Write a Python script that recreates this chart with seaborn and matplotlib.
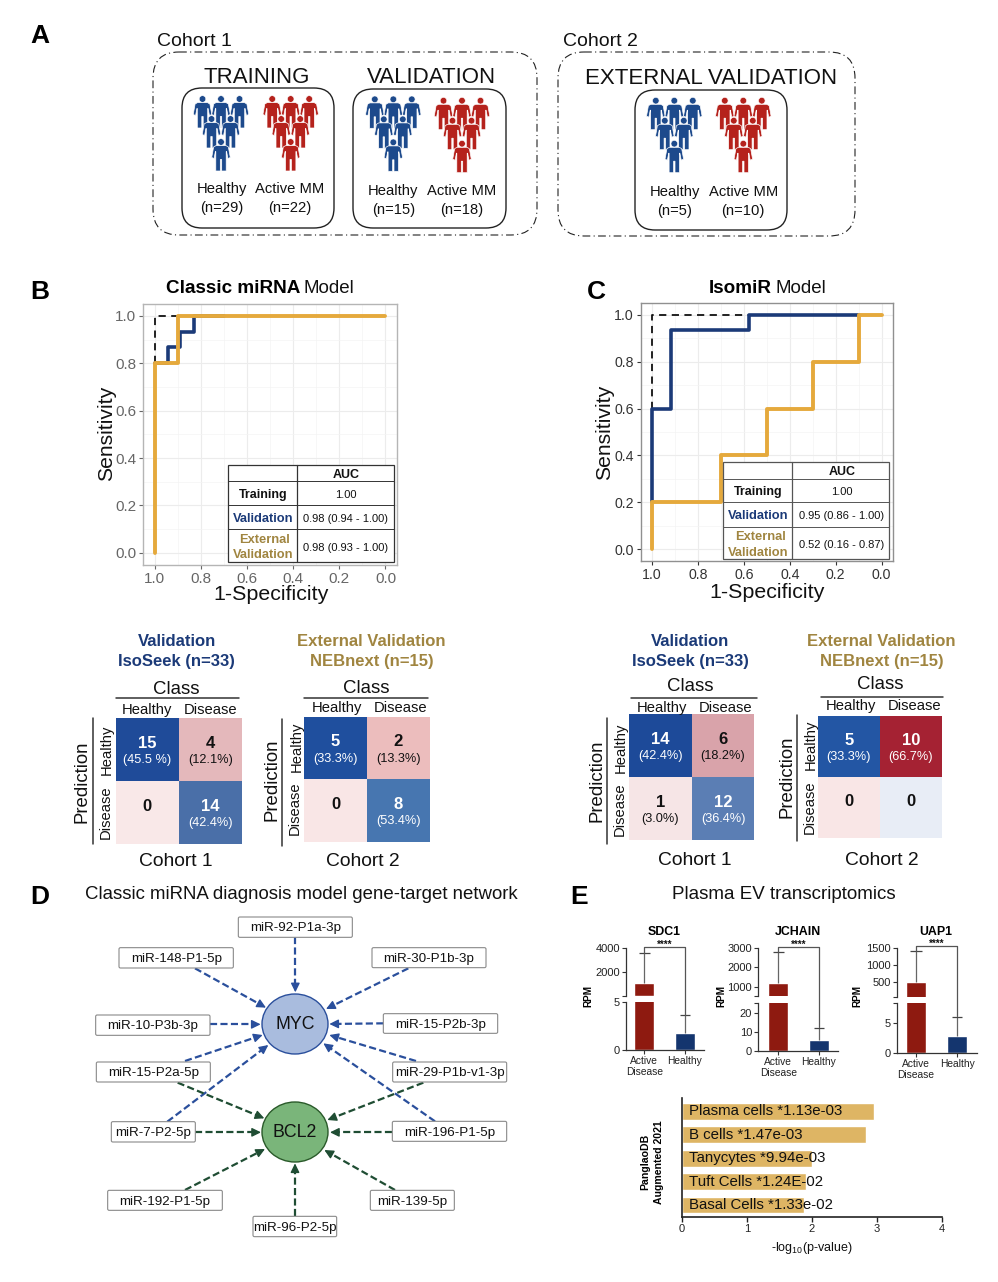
import numpy as np
import matplotlib
matplotlib.use('Agg')
import matplotlib.pyplot as plt
from matplotlib.colors import ListedColormap
from matplotlib.patches import FancyBboxPatch, Polygon, Circle, Ellipse
import seaborn as sns

sns.set_theme(style='white')
plt.rcParams['font.family'] = ['Liberation Sans', 'DejaVu Sans']
plt.rcParams['mathtext.default'] = 'regular'

W, H = 998, 1282
NAVY = '#1b3a78'
GOLD = '#e5a93c'
GOLD_TXT = '#a08540'
BLUE_P = '#1d4a8c'
RED_P = '#b5221c'

# === ROC data ===
b_val_x = [1.0, 0.945, 0.945, 0.89, 0.89, 0.83, 0.83, 0.7]
b_val_y = [0.8, 0.8, 0.867, 0.867, 0.933, 0.933, 1.0, 1.0]
b_ext_x = [1.0, 1.0, 0.9, 0.9, 0.0]
b_ext_y = [0.0, 0.8, 0.8, 1.0, 1.0]
b_train_x = [1.0, 1.0, 0.9]
b_train_y = [0.8, 1.0, 1.0]

c_val_x = [1.0, 1.0, 0.92, 0.92, 0.58, 0.58, 0.1]
c_val_y = [0.2, 0.6, 0.6, 0.933, 0.933, 1.0, 1.0]
c_ext_x = [1.0, 1.0, 0.7, 0.7, 0.5, 0.5, 0.3, 0.3, 0.1, 0.1, 0.0]
c_ext_y = [0.0, 0.2, 0.2, 0.4, 0.4, 0.6, 0.6, 0.8, 0.8, 1.0, 1.0]
c_train_x = [1.0, 1.0, 0.58]
c_train_y = [0.6, 1.0, 1.0]

roc_ticks = [0.0, 0.2, 0.4, 0.6, 0.8, 1.0]
roc_minor = [0.1, 0.3, 0.5, 0.7, 0.9]

# === Confusion matrices ===
b1_counts = [[15, 4], [0, 14]]
b1_pct = [['(45.5 %)', '(12.1%)'], ['', '(42.4%)']]
b1_cols = ['#1f4b99', '#e4b8bb', '#f9e8e8', '#4a6fa8']
b2_counts = [[5, 2], [0, 8]]
b2_pct = [['(33.3%)', '(13.3%)'], ['', '(53.4%)']]
b2_cols = ['#1f4f9e', '#ecbdbd', '#f9e6e6', '#4776b0']
c1_counts = [[14, 6], [1, 12]]
c1_pct = [['(42.4%)', '(18.2%)'], ['(3.0%)', '(36.4%)']]
c1_cols = ['#1d4a99', '#d9a3aa', '#f6e5e6', '#5b7eb4']
c2_counts = [[5, 10], [0, 0]]
c2_pct = [['(33.3%)', '(66.7%)'], ['', '']]
c2_cols = ['#2356a4', '#a52233', '#f9e6e6', '#e8edf6']

# === Plasma EV bars ===
groups = ['Active\nDisease', 'Healthy']
sdc1_bar = [1100, 1.75]
sdc1_err = [3600, 3.65]
jchain_bar = [1190, 5.85]
jchain_err = [2810, 12.5]
uap1_bar = [500, 2.75]
uap1_err = [1430, 6.0]

# === Enrichment ===
cell_labels = ['Plasma cells *1.13e-03', 'B cells *1.47e-03', 'Tanycytes *9.94e-03',
               'Tuft Cells *1.24E-02', 'Basal Cells *1.33e-02']
cell_values = [2.95, 2.83, 2.00, 1.91, 1.88]

fig = plt.figure(figsize=(W / 100, H / 100), dpi=100, facecolor='white')


def axpx(x0, y0, x1, y1):
    return fig.add_axes([x0 / W, 1 - y1 / H, (x1 - x0) / W, (y1 - y0) / H])


# overlay in pixel coordinates, for the diagram parts and loose text
ov = axpx(0, 0, W, H)
ov.set_xlim(0, W)
ov.set_ylim(H, 0)
ov.axis('off')
ov.set_zorder(10)
ov.patch.set_alpha(0)


def txt(x, y, s, size=10, weight='normal', color='#111111', ha='center', rot=0, **kw):
    # matplotlib centres on the line box with descender, so glyphs sit a bit high
    off = size * 0.13
    if rot:
        x += off
    else:
        y += off
    ov.text(x, y, s, fontsize=size, fontweight=weight, color=color, ha=ha, va='center',
            rotation=rot, **kw)


def rbox(x0, y0, x1, y1, r, ls='-', lw=1.0, ec='#222222', fc='none', z=1):
    ov.add_patch(FancyBboxPatch((x0 + r, y0 + r), x1 - x0 - 2 * r, y1 - y0 - 2 * r,
                                boxstyle=f'round,pad={r},rounding_size={r}',
                                ls=ls, lw=lw, ec=ec, fc=fc, zorder=z))


# === Panel A ===
half = [(0, 3.6), (5, 3.6), (7.4, 5), (9.3, 15.5), (6.9, 16.5), (5.6, 9.5), (5.2, 9.5),
        (5.2, 29), (0.7, 29), (0.7, 17.5), (0, 17.5)]
person = np.array(half + [(-x, y) for x, y in half[::-1]])
offsets = [(-18.5, 0), (0, 0), (18.5, 0), (-9.5, 20), (9.5, 20), (0, 43)]


def people(cx, cy, color):
    for dx, dy in offsets:
        ov.add_patch(Polygon(person + [cx + dx, cy + dy], closed=True, fc=color,
                             ec='white', lw=0.5, zorder=3))
        ov.add_patch(Circle((cx + dx, cy + dy), 3.3, fc=color, ec='white', lw=0.4, zorder=3))


rbox(153, 52, 537, 235, 26, ls=(0, (7, 3, 1, 3)), lw=0.8)
rbox(558, 52, 855, 236, 26, ls=(0, (7, 3, 1, 3)), lw=0.8)
rbox(182, 88, 334, 228, 20)
rbox(353, 89, 506, 228, 20)
rbox(635, 90, 787, 230, 20)
people(221, 99, BLUE_P)
people(290.7, 99, RED_P)
people(393.3, 99.3, BLUE_P)
people(462, 100.7, RED_P)
people(674.3, 100.7, BLUE_P)
people(743.3, 100.7, RED_P)

txt(157, 40, 'Cohort 1', 14, ha='left')
txt(563, 40, 'Cohort 2', 14, ha='left')
txt(257, 75, 'TRAINING', 16)
txt(431, 75, 'VALIDATION', 16)
txt(711, 76.5, 'EXTERNAL VALIDATION', 16)
for x, y, a, b in [(221.7, 188, 'Healthy', '(n=29)'), (290, 188, 'Active MM', '(n=22)'),
                   (393.3, 190, 'Healthy', '(n=15)'), (461.7, 190, 'Active MM', '(n=18)'),
                   (675, 190.7, 'Healthy', '(n=5)'), (743.3, 190.7, 'Active MM', '(n=10)')]:
    txt(x, y, a, 10.6)
    txt(x, y + 18.5, b, 10.6)

for x, y, s in [(30, 34, 'A'), (30, 290, 'B'), (587, 290, 'C'), (30, 895, 'D'), (570, 895, 'E')]:
    txt(x, y, s, 19, 'bold', '#000000', ha='left')


# === Panels B, C: ROC ===
def roc(box, val, ext, train, tick_col, tick_size, edge):
    ax = axpx(*box)
    ax.set_xlim(1.05, -0.05)
    ax.set_ylim(-0.05, 1.05)
    ax.set_xticks(roc_ticks)
    ax.set_yticks(roc_ticks)
    ax.set_xticks(roc_minor, minor=True)
    ax.set_yticks(roc_minor, minor=True)
    ax.grid(True, which='major', color='#ececec', lw=0.8)
    ax.grid(True, which='minor', color='#f4f4f4', lw=0.5)
    ax.set_axisbelow(True)
    sns.lineplot(x=train[0], y=train[1], sort=False, estimator=None, color='#111111',
                 lw=1.3, linestyle=(0, (4, 3)), ax=ax)
    sns.lineplot(x=val[0], y=val[1], sort=False, estimator=None, color=NAVY, lw=2.6, ax=ax)
    sns.lineplot(x=ext[0], y=ext[1], sort=False, estimator=None, color=GOLD, lw=2.8, ax=ax)
    ax.tick_params(axis='both', which='major', length=3, width=0.8, color=tick_col,
                   labelsize=tick_size, labelcolor=tick_col, pad=2, left=True, bottom=True)
    ax.set_xticklabels([f'{t:.1f}' for t in roc_ticks])
    ax.set_xlabel('')
    ax.set_ylabel('')
    for s in ax.spines.values():
        s.set_color(edge)
        s.set_linewidth(1.0)
    return ax


roc((143.3, 304, 397, 564.7), (b_val_x, b_val_y), (b_ext_x, b_ext_y), (b_train_x, b_train_y),
    '#666666', 11, '#b5b5b5')
roc((640.7, 303, 893, 561), (c_val_x, c_val_y), (c_ext_x, c_ext_y), (c_train_x, c_train_y),
    '#333333', 10.2, '#909090')

txt(166, 287, 'Classic miRNA', 13.6, 'bold', '#000000', ha='left')
txt(304, 287, 'Model', 13.5, ha='left')
txt(708.3, 286.5, 'IsomiR', 13.6, 'bold', '#000000', ha='left')
txt(775.7, 286.5, 'Model', 13.5, ha='left')
txt(270.7, 592, '1-Specificity', 15.4)
txt(105, 433, 'Sensitivity', 15.2, rot=90)
txt(766.7, 590.5, '1-Specificity', 15.4)
txt(602.7, 432, 'Sensitivity', 15.2, rot=90)


def auc_table(x0, xm, x1, ys, rows, lc):
    ov.add_patch(plt.Rectangle((x0, ys[0]), x1 - x0, ys[-1] - ys[0], fc='white', ec=lc, lw=0.9, zorder=2))
    ov.plot([xm, xm], [ys[0], ys[-1]], color=lc, lw=0.9, zorder=3)
    for y in ys[1:-1]:
        ov.plot([x0, x1], [y, y], color=lc, lw=0.7, zorder=3)
    for x, y, s, size, weight, c in rows:
        txt(x, y, s, size, weight, c, zorder=4)


auc_table(228.3, 296.7, 393.7, [465.3, 481.3, 505, 529.3, 561.7], [
    (345.7, 474, 'AUC', 9, 'bold', '#111111'),
    (262.7, 494, 'Training', 9, 'bold', '#111111'),
    (345.7, 494, '1.00', 8, 'normal', '#111111'),
    (262.7, 517.5, 'Validation', 9.3, 'bold', NAVY),
    (345.7, 517.5, '0.98 (0.94 - 1.00)', 8, 'normal', '#111111'),
    (265, 538.5, 'External', 9.3, 'bold', GOLD_TXT),
    (262.7, 553.5, 'Validation', 9.3, 'bold', GOLD_TXT),
    (345.7, 546.5, '0.98 (0.93 - 1.00)', 8, 'normal', '#111111'),
], '#333333')
auc_table(723.3, 791.7, 889, [462.3, 479.3, 502.3, 526.7, 559.3], [
    (841.7, 471, 'AUC', 9, 'bold', '#111111'),
    (758.3, 491, 'Training', 9, 'bold', '#111111'),
    (841.7, 491, '1.00', 8, 'normal', '#111111'),
    (758.3, 515, 'Validation', 9.3, 'bold', NAVY),
    (841.7, 515, '0.95 (0.86 - 1.00)', 8, 'normal', '#111111'),
    (760.7, 536, 'External', 9.3, 'bold', GOLD_TXT),
    (758.3, 551.5, 'Validation', 9.3, 'bold', GOLD_TXT),
    (841.7, 544, '0.52 (0.16 - 0.87)', 8, 'normal', '#111111'),
], '#555555')


# === Confusion matrices ===
def confusion(box, counts, pcts, cols, white_cells):
    ax = axpx(*box)
    idx = np.array([[0, 1], [2, 3]])
    sns.heatmap(idx, cmap=ListedColormap(cols), vmin=0, vmax=3, cbar=False, square=False,
                xticklabels=False, yticklabels=False, linewidths=0, ax=ax)
    for r in range(2):
        for c in range(2):
            col = 'white' if (r, c) in white_cells else '#111111'
            ax.text(c + 0.5, r + 0.40, str(counts[r][c]), color=col, fontsize=12,
                    fontweight='bold', ha='center', va='center')
            if pcts[r][c]:
                ax.text(c + 0.5, r + 0.67, pcts[r][c], color=col, fontsize=9.2,
                        ha='center', va='center')
    return ax


confusion((116, 718, 241.7, 844), b1_counts, b1_pct, b1_cols, [(0, 0), (1, 1)])
confusion((304, 716.7, 430, 842), b2_counts, b2_pct, b2_cols, [(0, 0), (1, 1)])
confusion((629.3, 714.3, 754.3, 840), c1_counts, c1_pct, c1_cols, [(0, 0), (1, 1)])
confusion((817.7, 715.7, 941.7, 838.3), c2_counts, c2_pct, c2_cols, [(0, 0), (0, 1)])


def cm_labels(head_x, cls, line, hd, ds, pred, vline, rh, rd, coh, name, val=True):
    if val:
        txt(head_x, 640, 'Validation', 12, 'bold', NAVY)
        txt(head_x, 660, 'IsoSeek (n=33)', 12, 'bold', NAVY)
    else:
        txt(head_x, 640, 'External Validation', 12, 'bold', GOLD_TXT)
        txt(head_x, 660, 'NEBnext (n=15)', 12, 'bold', GOLD_TXT)
    txt(cls[0], cls[1], 'Class', 13.4)
    ov.plot(line[:2], [line[2], line[2]], color='#333333', lw=1.1)
    txt(hd[0], hd[1], 'Healthy', 10.6)
    txt(ds[0], ds[1], 'Disease', 10.6)
    txt(pred[0], pred[1], 'Prediction', 13.4, rot=90)
    ov.plot([vline[0], vline[0]], vline[1:], color='#333333', lw=1.1)
    txt(rh[0], rh[1], 'Healthy', 10.6, rot=90)
    txt(rd[0], rd[1], 'Disease', 10.6, rot=90)
    txt(coh[0], coh[1], name, 13.9)


cm_labels(176.7, (176, 687.5), (116, 239.3, 698), (146.7, 709), (211, 709), (80, 781.7),
          (93.3, 718, 844.3), (105, 750), (104, 811.7), (176, 860), 'Cohort 1')
cm_labels(371.7, (366.7, 686.5), (304.3, 427.7, 698), (336.7, 706.5), (400.7, 706.5), (270, 780),
          (282.3, 719.3, 845.7), (295, 746.7), (293.3, 808.3), (363.3, 860), 'Cohort 2', val=False)
cm_labels(690, (690.7, 685), (631, 756.7, 697.7), (661.7, 707), (726, 707), (595, 780.7),
          (606.7, 717.7, 844.3), (619.3, 748), (618.3, 809), (695, 859), 'Cohort 1')
cm_labels(881.7, (880.7, 682.5), (821, 942.7, 697.3), (851, 705), (915, 705), (785, 776.7),
          (796.7, 715, 841), (809, 745), (808.3, 807.3), (882.3, 859), 'Cohort 2', val=False)

# === Panel D: network ===
txt(85, 893, 'Classic miRNA diagnosis model gene-target network', 13.45, ha='left')
ZX, ZY = 80, 905


def z(p):
    return np.array([ZX + p[0] / 3, ZY + p[1] / 3])


blue_edges = [((646, 97), (646, 262)), ((345, 190), (558, 308)), ((985, 190), (738, 312)),
              ((390, 358), (542, 358)), ((910, 355), (748, 357)), ((315, 468), (548, 390)),
              ((1008, 468), (748, 390)), ((262, 650), (565, 420)), ((1065, 649), (730, 415))]
green_edges = [((293, 533), (553, 640)), ((1030, 533), (742, 645)), ((346, 682), (543, 682)),
               ((937, 682), (750, 682)), ((315, 855), (555, 732)), ((945, 855), (733, 735)),
               ((645, 934), (645, 775))]


def arrow(a, b, color):
    a, b = z(a), z(b)
    d = (b - a) / np.linalg.norm(b - a)
    neck = b - d * 7
    ov.plot([a[0], neck[0]], [a[1], neck[1]], color=color, lw=1.6, ls=(0, (3.2, 1.5)), zorder=1)
    ov.annotate('', xy=b, xytext=neck, zorder=2,
                arrowprops=dict(arrowstyle='-|>,head_width=0.22,head_length=0.45', color=color,
                                lw=1, shrinkA=0, shrinkB=0))


for a, b in blue_edges:
    arrow(a, b, '#2a4f9c')
for a, b in green_edges:
    arrow(a, b, '#1f4d33')

mir_boxes = [('miR-92-P1a-3p', 475, 817, 36, 97), ('miR-148-P1-5p', 117, 460, 128, 189),
             ('miR-30-P1b-3p', 876, 1218, 128, 188), ('miR-10-P3b-3p', 47, 390, 330, 391),
             ('miR-15-P2b-3p', 910, 1253, 326, 385), ('miR-15-P2a-5p', 49, 391, 471, 531),
             ('miR-29-P1b-v1-3p', 938, 1280, 471, 531), ('miR-7-P2-5p', 94, 346, 650, 711),
             ('miR-196-P1-5p', 937, 1280, 649, 709), ('miR-192-P1-5p', 83, 427, 856, 916),
             ('miR-139-5p', 871, 1123, 856, 916), ('miR-96-P2-5p', 519, 770, 934, 995)]
for name, x0, x1, y0, y1 in mir_boxes:
    p0, p1 = z((x0, y0)), z((x1, y1))
    rbox(p0[0], p0[1], p1[0], p1[1], 1.5, lw=0.8, ec='#8a8a8a', fc='white', z=3)
    txt((p0[0] + p1[0]) / 2, (p0[1] + p1[1]) / 2, name, 9.6, zorder=4)

ov.add_patch(Ellipse((295, 1024), 66, 60, fc='#a9bcde', ec='#2a4f9c', lw=1, zorder=3))
ov.add_patch(Ellipse((295, 1132), 66, 60, fc='#7ab57a', ec='#2a5a2a', lw=1, zorder=3))
txt(295, 1023, 'MYC', 12.8, zorder=4)
txt(295, 1131, 'BCL2', 12.8, zorder=4)

# === Panel E: broken-axis bars ===
txt(672, 893, 'Plasma EV transcriptomics', 13.5, ha='left')
BAR_COLS = ['#8e1a10', '#14356e']


def broken_bars(title, tx, up_box, low_box, c0, c1, bars, errs, up_lim, low_lim,
                up_ticks, up_labels, low_ticks, low_labels, bracket_y, left_end, right_end, rpm_x):
    step = c1 - c0
    xlim = ((up_box[0] - c0) / step, (up_box[2] - c0) / step)
    up = axpx(*up_box)
    low = axpx(*low_box)
    for ax, lim in ((up, up_lim), (low, low_lim)):
        sns.barplot(x=groups, y=bars, hue=groups, palette=BAR_COLS, width=0.49, legend=False,
                    saturation=1, ax=ax)
        ax.set_xlim(*xlim)
        ax.set_ylim(*lim)
        ax.spines[['top', 'right']].set_visible(False)
        ax.patch.set_alpha(0)
        ax.tick_params(axis='both', length=3, width=0.8, color='#333333', labelsize=8, pad=1.5,
                       left=True, labelcolor='#222222')
        ax.set_ylabel('')
        for s in ('left', 'bottom'):
            ax.spines[s].set_color('#333333')
            ax.spines[s].set_linewidth(0.9)
    up.spines['bottom'].set_visible(False)
    up.tick_params(axis='x', bottom=False, labelbottom=False)
    up.set_yticks(up_ticks)
    up.set_yticklabels(up_labels)
    low.set_yticks(low_ticks)
    low.set_yticklabels(low_labels)
    low.tick_params(axis='x', bottom=True, labelsize=7.4)
    low.set_xticks([0, 1])
    low.set_xticklabels(groups, linespacing=1.15)
    # error bars, upwards only
    up.vlines(0, bars[0], errs[0], color='#666666', lw=0.9)
    up.hlines(errs[0], -0.135, 0.135, color='#444444', lw=0.9)
    low.vlines(1, bars[1], errs[1], color='#666666', lw=0.9)
    low.hlines(errs[1], 0.875, 1.125, color='#444444', lw=0.9)
    # bracket
    ov.plot([c0, c0, c1, c1], [left_end, bracket_y, bracket_y, right_end], color='#555555', lw=0.9)
    txt((c0 + c1) / 2, bracket_y - 3, '****', 7, 'bold', '#111111')
    txt(tx, 931, title, 8.9, 'bold', '#000000')
    txt(rpm_x, 996, 'RPM', 7.2, 'bold', '#000000', rot=90)


broken_bars('SDC1', 664, (626, 948.3, 704, 996), (626, 1002.3, 704, 1050), 644.3, 685,
            sdc1_bar, sdc1_err, (0, 4000), (0, 5), [0, 2000, 4000], ['', '2000', '4000'],
            [0, 5], ['0', '5'], 947.3, 953, 1015, 587)
broken_bars('JCHAIN', 798, (758.3, 948, 838, 996.3), (758.3, 1002.7, 838, 1051), 778.3, 819,
            jchain_bar, jchain_err, (500, 3000), (0, 25.7), [500, 1000, 2000, 3000],
            ['', '1000', '2000', '3000'], [0, 10, 20, 25.7], ['0', '10', '20', ''],
            946.7, 951.7, 1027, 720)
broken_bars('UAP1', 936, (897, 948.3, 977, 997.3), (897, 1003.3, 977, 1052.7), 916, 957.3,
            uap1_bar, uap1_err, (60, 1500), (0, 8.2), [60, 500, 1000, 1500],
            ['', '500', '1000', '1500'], [0, 5, 8.2], ['0', '5', ''],
            946, 950.7, 1016.3, 856.7)

# === Enrichment bars ===
ax = axpx(681.7, 1098, 942, 1216.7)
sns.barplot(x=cell_values, y=cell_labels, orient='h', color='#deb564', saturation=1, width=0.714, ax=ax)
ax.set_xlim(0, 4)
ax.set_ylim(4.5, -0.57)
ax.set_xticks([0, 1, 2, 3, 4])
ax.set_yticks([])
ax.set_ylabel('')
ax.spines[['top', 'right']].set_visible(False)
for s in ('left', 'bottom'):
    ax.spines[s].set_color('#222222')
    ax.spines[s].set_linewidth(1.2)
ax.tick_params(axis='x', length=3.5, width=1, color='#222222', labelsize=8, pad=2, bottom=True,
               labelcolor='#222222')
for i, label in enumerate(cell_labels):
    ax.text(0.118, i, label, fontsize=10.8, color='#111111', ha='left', va='center')
txt(812, 1247, '-log$_{10}$(p-value)', 9)
txt(644, 1162, 'PanglaoDB', 7.6, 'bold', '#000000', rot=90)
txt(658, 1162, 'Augmented 2021', 7.6, 'bold', '#000000', rot=90)

plt.savefig('out.png', dpi=100)
